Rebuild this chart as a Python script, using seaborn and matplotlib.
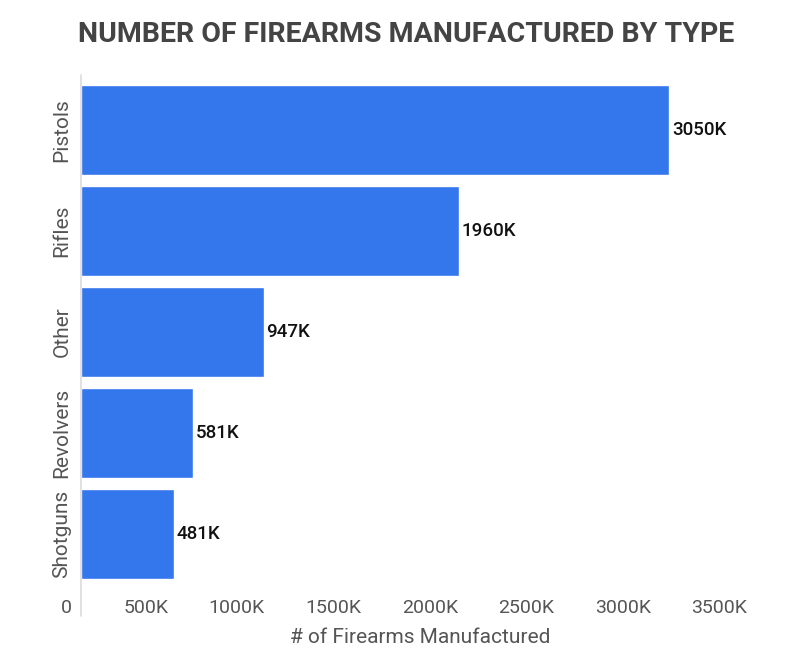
import matplotlib
matplotlib.use("Agg")
import matplotlib.pyplot as plt
import seaborn as sns
import pandas as pd

categories = ["Pistols", "Rifles", "Other", "Revolvers", "Shotguns"]
values_k = [3050, 1960, 947, 581, 481]
value_labels = ["3050K", "1960K", "947K", "581K", "481K"]
xticks_k = [0, 500, 1000, 1500, 2000, 2500, 3000, 3500]
xtick_labels = ["0", "500K", "1000K", "1500K", "2000K", "2500K", "3000K", "3500K"]

df = pd.DataFrame({"type": categories, "value": values_k})

sns.set_theme(style="white")
plt.rcParams["font.family"] = ["Roboto", "DejaVu Sans"]

W, H = 800, 662
fig = plt.figure(figsize=(8, 6.62), dpi=100)
ax = fig.add_axes([81 / W, 1 - 590 / H, (760 - 81) / W, (590 - 75) / H])

sns.barplot(data=df, x="value", y="type", order=categories, color="#3476EB",
            saturation=1, width=0.89, ax=ax, orient="h")

ax.set_xlim(0, 3520)
ax.set_ylim(4.554, -0.545)

for c in ax.containers:
    ax.bar_label(c, labels=value_labels, padding=2, fontsize=13.5,
                 color="#111111", fontweight="medium")

# x tick labels: right-aligned just left of each tick position
ax.set_xticks(xticks_k)
ax.set_xticklabels([])
for v, lbl in zip(xticks_k, xtick_labels):
    ax.annotate(lbl, xy=(v, 0), xycoords=("data", "axes fraction"),
                xytext=(-6.5, -6.5), textcoords="offset points",
                ha="right", va="top", fontsize=14, color="#555555",
                annotation_clip=False)

ax.set_yticks(range(len(categories)))
ax.set_yticklabels(categories, rotation=90, va="center", fontsize=15, color="#555555")
ax.tick_params(axis="x", length=0, pad=6)
ax.tick_params(axis="y", length=0, pad=7)

ax.set_xlabel("# of Firearms Manufactured", fontsize=15, color="#555555")
ax.xaxis.set_label_coords(0.5, -0.073)
ax.set_ylabel("")

for s in ["top", "right", "bottom", "left"]:
    ax.spines[s].set_visible(False)
ax.axvline(0, ymin=-0.05, ymax=1, color="#dcdcdc", lw=1.2, clip_on=False)

fig.text(406 / W, 1 - 35 / H, "NUMBER OF FIREARMS MANUFACTURED BY TYPE",
         ha="center", va="center", fontsize=20.5, fontweight="bold", color="#444444")

fig.savefig("out.png", dpi=100, facecolor="white")
